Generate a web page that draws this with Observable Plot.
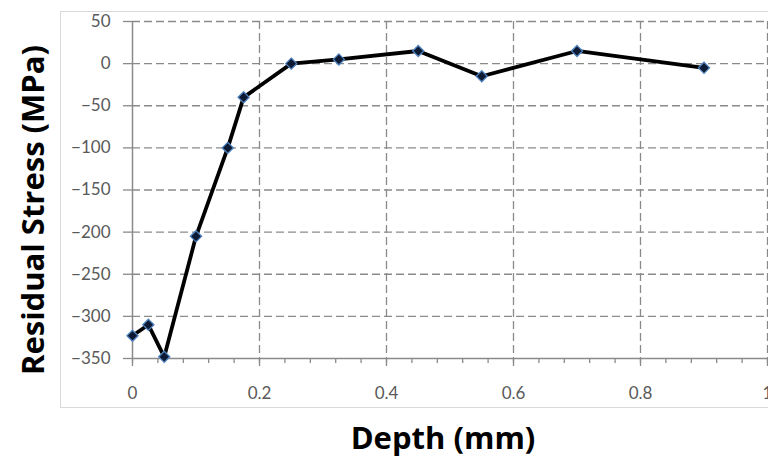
<!DOCTYPE html>
<html><head><meta charset="utf-8">
<script src="https://cdn.jsdelivr.net/npm/d3@7"></script>
<script src="https://cdn.jsdelivr.net/npm/@observablehq/plot@0.6"></script>
<style>
body{margin:0;background:#fff;}
#wrap{position:relative;width:768px;height:459px;overflow:hidden;}
#border{position:absolute;left:60px;top:11px;width:720px;height:395px;border:1px solid #d9d9d9;}
svg{position:absolute;left:0;top:0;}
.ttl{position:absolute;font-family:"Open Sans",sans-serif;font-weight:bold;font-size:31px;color:#000;white-space:nowrap;line-height:1;}
#xt{left:443px;top:437px;transform:translate(-50%,-50%);}
#yt{left:32px;top:210px;transform:translate(-50%,-50%) rotate(-90deg);}
</style>
</head><body>
<div id="wrap"><div id="border"></div></div>
<script>
const depth = [0, 0.025, 0.05, 0.1, 0.15, 0.175, 0.25, 0.325, 0.45, 0.55, 0.7, 0.9];
const stress = [-323, -310, -348, -205, -100, -40, 0, 5, 15, -15, 15, -5];
const yTicks = [50, 0, -50, -100, -150, -200, -250, -300, -350];
const xTicks = [0, 0.2, 0.4, 0.6, 0.8, 1];
const xMinor = d3.range(0, 1.0001, 0.04);
const xTitle = "Depth (mm)";
const yTitle = "Residual Stress (MPa)";

const data = depth.map((d, i) => ({depth: d, stress: stress[i]}));
const gridC = "#8a8a8a";

const chart = Plot.plot({
  width: 768, height: 459,
  marginLeft: 132, marginRight: 1, marginTop: 21, marginBottom: 101,
  style: {fontFamily: "Lato, sans-serif", fontSize: "17px", color: "#595959", background: "transparent", overflow: "visible"},
  x: {domain: [0, 1], label: null},
  y: {domain: [-350, 50], label: null},
  marks: [
    Plot.gridY(yTicks.filter(v => v !== -350), {stroke: gridC, strokeOpacity: 1, strokeWidth: 1.3, strokeDasharray: "8,4"}),
    Plot.gridX(xTicks.filter(v => v !== 0), {stroke: gridC, strokeOpacity: 1, strokeWidth: 1.3, strokeDasharray: "8,4"}),
    Plot.axisX(xMinor, {tickSize: 5, tickFormat: () => "", stroke: "#8a8a8a", strokeWidth: 1.3, label: null}),
    Plot.axisX(xTicks, {tickSize: 8, tickPadding: 20, tickFormat: d => d3.format("")(d), stroke: "#8a8a8a", strokeWidth: 1.3, fill: "#595959", label: null}),
    Plot.axisY(yTicks, {tickSize: 9, tickPadding: 13, stroke: "#8a8a8a", strokeWidth: 1.3, fill: "#595959", label: null}),
    Plot.ruleY([-350], {stroke: "#8a8a8a", strokeWidth: 1.5}),
    Plot.ruleX([0], {stroke: "#8a8a8a", strokeWidth: 1.5}),
    Plot.line(data, {x: "depth", y: "stress", stroke: "#000", strokeWidth: 3.8, strokeLinejoin: "round"}),
    Plot.dot(data, {x: "depth", y: "stress", symbol: "diamond2", r: 5, fill: "#0d1a33", stroke: "#4f81bd", strokeWidth: 1.3})
  ]
});
const wrap = document.getElementById("wrap");
wrap.appendChild(chart);
const xt = document.createElement("div"); xt.className = "ttl"; xt.id = "xt"; xt.textContent = xTitle; wrap.appendChild(xt);
const yt = document.createElement("div"); yt.className = "ttl"; yt.id = "yt"; yt.textContent = yTitle; wrap.appendChild(yt);
</script>
</body></html>
